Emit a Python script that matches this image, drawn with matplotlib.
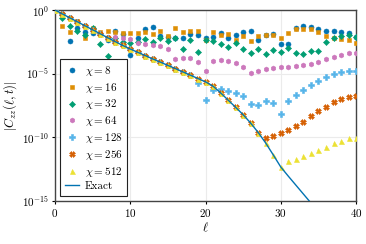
import numpy as np
import matplotlib
matplotlib.use("Agg")
import matplotlib.pyplot as plt

plt.rcParams["font.family"] = ["cmr10", "DejaVu Serif"]
plt.rcParams["mathtext.fontset"] = "cm"
plt.rcParams["axes.formatter.use_mathtext"] = True

# log10 |C_zz(l,t)|, l = 0..40
ell = np.arange(41)

exact_log = [0.0, -0.31, -0.62, -0.93, -1.24, -1.55, -1.86, -2.17, -2.48, -2.78,
             -3.06, -3.32, -3.58, -3.84, -4.09, -4.35, -4.6, -4.86, -5.12, -5.38,
             -5.64, -5.98, -6.5, -7.07, -7.64, -8.22, -8.88, -9.62, -10.45, -11.38,
             -12.33, -13.05, -13.75, -14.45, -15.15, -15.85]

chi8 = [0.0, -0.3, -2.41, -1.4, -1.7, -1.83, -1.9, -2.38, -1.65, -1.85,
        -3.53, -2.17, -1.49, -1.37, -2.05, -2.1, -2.2, -2.23, -1.91, -1.96,
        -2.17, -2.1, -1.84, -2.23, -2.0, -1.72, -1.68, -2.36, -1.96, -1.91,
        -2.65, -2.67, -1.4, -1.24, -1.36, -1.5, -1.61, -1.67, -1.72, -1.8, -2.1]

chi16 = [0.0, -1.28, -1.72, -0.9, -2.16, -1.45, -1.75, -1.68, -1.75, -1.82,
         -1.83, -1.8, -1.75, -1.85, -1.65, -2.04, -1.44, -1.75, -1.68, -1.63,
         -2.36, -1.7, -1.95, -1.91, -2.36, -2.04, -2.44, -2.08, -2.0, -1.96,
         -2.23, -1.8, -1.52, -1.46, -1.48, -1.75, -2.08, -2.2, -2.3, -2.36, -2.62]

chi32 = [0.0, -0.65, -1.28, -1.63, -1.93, -1.45, -2.66, -3.59, -2.2, -2.49,
         -2.57, -2.5, -2.3, -2.49, -2.23, -2.4, -2.23, -3.04, -2.38, -3.27,
         -2.33, -2.4, -2.66, -2.88, -2.6, -3.1, -3.4, -3.03, -3.48, -3.14,
         -3.27, -2.95, -3.38, -3.44, -3.22, -3.22, -2.49, -2.23, -2.07, -1.93, -2.1]

chi64 = [0.0, -0.31, -0.62, -0.93, -1.24, -1.55, -1.86, -2.1, -2.1, -2.2,
         -2.25, -2.6, -2.7, -2.72, -2.83, -3.06, -3.88, -3.78, -3.78, -4.08,
         -4.79, -4.03, -3.95, -4.01, -4.19, -4.45, -4.92, -4.79, -4.62, -4.55,
         -4.45, -4.45, -4.38, -4.3, -4.23, -4.06, -3.85, -3.67, -3.53, -3.4, -3.34]

chi128 = [0.0, -0.31, -0.62, -0.93, -1.24, -1.55, -1.86, -2.17, -2.48, -2.78,
          -3.06, -3.32, -3.58, -3.84, -4.09, -4.35, -4.6, -4.86, -5.12, -5.71,
          -7.1, -6.25, -6.2, -6.34, -6.55, -6.78, -7.35, -7.43, -7.15, -7.28,
          -8.18, -7.12, -6.68, -6.25, -5.91, -5.56, -5.29, -5.03, -4.85, -4.78, -4.79]

chi256 = [0.0, -0.31, -0.62, -0.93, -1.24, -1.55, -1.86, -2.17, -2.48, -2.78,
          -3.06, -3.32, -3.58, -3.84, -4.09, -4.35, -4.6, -4.86, -5.12, -5.38,
          -5.64, -5.98, -6.5, -7.07, -7.64, -8.22, -8.88, -9.62, -10.03, -9.87,
          -9.64, -9.43, -9.11, -8.77, -8.33, -7.93, -7.6, -7.25, -7.01, -6.81, -6.76]

chi512 = [0.0, -0.31, -0.62, -0.93, -1.24, -1.55, -1.86, -2.17, -2.48, -2.78,
          -3.06, -3.32, -3.58, -3.84, -4.09, -4.35, -4.6, -4.86, -5.12, -5.38,
          -5.64, -5.98, -6.5, -7.07, -7.64, -8.22, -8.88, -9.62, -10.45, -11.38,
          -12.33, -11.86, -11.7, -11.47, -11.26, -11.0, -10.74, -10.47, -10.27, -10.08, -10.03]

series = [(8, chi8, "#0173B2", "o", 3.6),
          (16, chi16, "#DE8F05", "s", 3.3),
          (32, chi32, "#029E73", "D", 3.1),
          (64, chi64, "#CC78BC", "h", 3.6),
          (128, chi128, "#56B4E9", "P", 3.8),
          (256, chi256, "#D55E00", "X", 3.8),
          (512, chi512, "#ECE133", "^", 3.6)]

fig = plt.figure(figsize=(3.66, 2.44), dpi=100)
ax = fig.add_axes([0.150, 0.176, 0.823, 0.783])

for chi, vals, col, mk, size in series:
    ax.semilogy(ell, 10.0 ** np.array(vals), ls="none", marker=mk, ms=size,
                mfc=col, mec=col, mew=0.4, label=r"$\chi = %d$" % chi, zorder=3)

ax.semilogy(np.arange(len(exact_log)), 10.0 ** np.array(exact_log),
            color="#0173B2", lw=1.0, label="Exact", zorder=4)

ax.set_xlim(0, 40)
ax.set_ylim(1e-15, 1e0)
ax.set_xticks([0, 10, 20, 30, 40])
ax.set_yticks([1e0, 1e-5, 1e-10, 1e-15])
ax.yaxis.set_minor_locator(matplotlib.ticker.NullLocator())
ax.grid(True, color="#ebebeb", lw=0.8, zorder=0)
ax.set_axisbelow(True)
ax.tick_params(labelsize=8, length=2.5, width=0.8, direction="out", pad=2)
for sp in ax.spines.values():
    sp.set_color("#444444")
    sp.set_linewidth(1.0)

ax.set_xlabel(r"$\ell$", fontsize=9, labelpad=1)
ax.set_ylabel(r"$|C_{zz}(\ell,t)|$", fontsize=9, labelpad=2)

leg = ax.legend(loc="lower left", fontsize=8, frameon=True, fancybox=False,
                edgecolor="#222222", framealpha=1, handlelength=1.3,
                handletextpad=0.5, labelspacing=0.25, borderpad=0.4,
                borderaxespad=0.5)
leg.get_frame().set_linewidth(0.8)

fig.savefig("out.png", dpi=100)
